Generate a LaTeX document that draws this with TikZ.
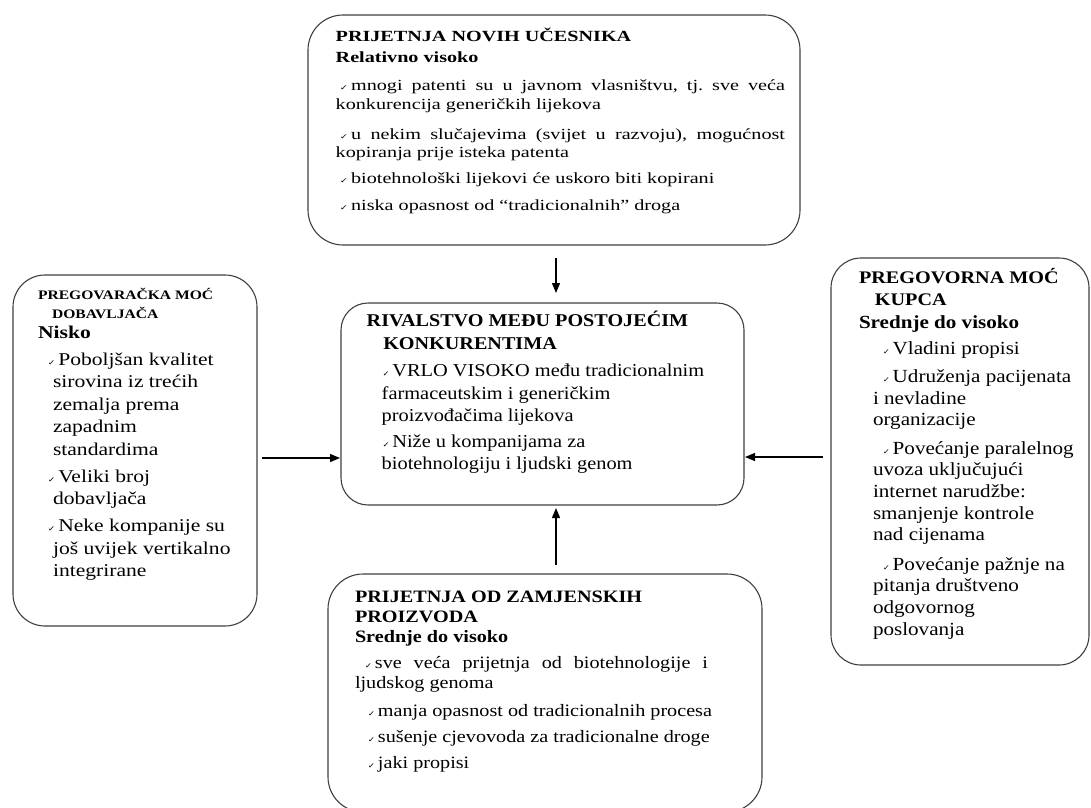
\documentclass[tikz,border=0pt]{standalone}
\usepackage{fontspec}
\setmainfont{Liberation Serif}
\newfontfamily\symf{DejaVu Sans}
\usepackage{graphicx}
\usetikzlibrary{arrows.meta}
\frenchspacing
\newcommand\ck{\raisebox{0pt}{\symf\bfseries\fontsize{7.5}{7.5}\selectfont ✓}\hspace{2.3pt}}
\tikzset{
  box/.style={draw=black!75, line width=1.1pt, inner sep=0pt, outer sep=0pt},
  txt/.style={inner sep=0pt, outer sep=0pt, anchor=base west, text=black},
  arr/.style={line width=1.3pt, -{Triangle[length=10pt,width=8pt]}}
}
\begin{document}
\begin{tikzpicture}[x=1pt,y=-1pt]
\useasboundingbox (0,0) rectangle (1091,807);
\clip (0,0) rectangle (1091,807);
\fill[white] (0,0) rectangle (1091,807);
% boxes
\node[box, minimum width=492pt, minimum height=230pt, rounded corners=35pt] (top) at (554,130) {};
\node[box, minimum width=244pt, minimum height=351pt, rounded corners=32pt] (lft) at (135,450.5) {};
\node[box, minimum width=403pt, minimum height=202pt, rounded corners=27pt] (ctr) at (542.5,404) {};
\node[box, minimum width=258pt, minimum height=407pt, rounded corners=30pt] (rgt) at (960,461.5) {};
\node[box, minimum width=434pt, minimum height=238pt, rounded corners=35pt] (bot) at (545,693) {};
% arrows
\coordinate (ax) at (556,0);
\coordinate (ayl) at (0,458);
\coordinate (ayr) at (0,457);
\draw[arr, shorten <=13pt, shorten >=10pt] (top.south -| ax) -- (ctr.north -| ax);
\draw[arr, shorten <=9pt, shorten >=3pt] (bot.north -| ax) -- (ctr.south -| ax);
\draw[arr, shorten <=5pt, shorten >=1pt] (lft.east |- ayl) -- (ctr.west |- ayl);
\draw[arr, shorten <=8pt, shorten >=1pt] (rgt.west |- ayr) -- (ctr.east |- ayr);
% top text
\node[txt] (topt) at (335.7,41.7) {\scalebox{1.3}[1]{\parbox[t]{400pt}{\raggedright\fontsize{15.5}{18.5}\selectfont
\textbf{PRIJETNJA NOVIH UČESNIKA}\\[2.1pt]
\textbf{Relativno visoko}\\[9.9pt]
\makebox[345.6pt][s]{\hspace*{3.3pt}\ck mnogi patenti su u javnom vlasništvu, tj. sve veća}\\
konkurencija generičkih lijekova\\[11.5pt]
\makebox[345.6pt][s]{\hspace*{3.3pt}\ck u nekim slučajevima (svijet u razvoju), mogućnost}\\
kopiranja prije isteka patenta\\[7.1pt]
\hspace*{3.3pt}\ck biotehnološki lijekovi će uskoro biti kopirani\\[8.2pt]
\hspace*{3.3pt}\ck niska opasnost od “tradicionalnih” droga}}};
% left text
\node[txt] (lftt) at (38,299.7) {\scalebox{1.2}[1]{\parbox[t]{200pt}{\raggedright\fontsize{18}{22.5}\selectfont
{\bfseries\fontsize{13}{18}\selectfont PREGOVARAČKA MOĆ}\\[-4.2pt]
\hspace*{11.7pt}{\bfseries\fontsize{13}{18}\selectfont DOBAVLJAČA}\\[-2.5pt]
\textbf{Nisko}\\[4.5pt]
\hspace*{8.3pt}\ck Poboljšan kvalitet\\
\hspace*{12.5pt}sirovina iz trećih\\
\hspace*{12.5pt}zemalja prema\\
\hspace*{12.5pt}zapadnim\\
\hspace*{12.5pt}standardima\\[4.5pt]
\hspace*{8.3pt}\ck Veliki broj\\
\hspace*{12.5pt}dobavljača\\[4.5pt]
\hspace*{8.3pt}\ck Neke kompanije su\\
\hspace*{12.5pt}još uvijek vertikalno\\
\hspace*{12.5pt}integrirane}}};
% center text
\node[txt] (ctrt) at (366.7,326.7) {\scalebox{1.12}[1]{\parbox[t]{350pt}{\raggedright\fontsize{18.2}{22.5}\selectfont
{\bfseries\fontsize{18}{22}\selectfont RIVALSTVO MEĐU POSTOJEĆIM}\\
\hspace*{14.8pt}{\bfseries\fontsize{18}{22}\selectfont KONKURENTIMA}\\[5pt]
\hspace*{14.3pt}\ck VRLO VISOKO među tradicionalnim\\
\hspace*{13.4pt}farmaceutskim i generičkim\\
\hspace*{13.4pt}proizvođačima lijekova\\[3.2pt]
\hspace*{14.3pt}\ck Niže u kompanijama za\\
\hspace*{13.4pt}biotehnologiju i ljudski genom}}};
% right text
\node[txt] (rgtt) at (859,283.7) {\scalebox{1.14}[1]{\parbox[t]{200pt}{\raggedright\fontsize{18.5}{21.7}\selectfont
{\bfseries\fontsize{17.7}{21}\selectfont PREGOVORNA MOĆ}\\
\hspace*{14pt}{\bfseries\fontsize{17.7}{21}\selectfont KUPCA}\\[1pt]
\textbf{Srednje do visoko}\\[4.3pt]
\hspace*{21pt}\ck Vladini propisi\\[6.6pt]
\hspace*{21pt}\ck Udruženja pacijenata\\
\hspace*{12.3pt}i nevladine\\
\hspace*{12.3pt}organizacije\\[6.6pt]
\hspace*{21pt}\ck Povećanje paralelnog\\
\hspace*{12.3pt}uvoza uključujući\\
\hspace*{12.3pt}internet narudžbe:\\
\hspace*{12.3pt}smanjenje kontrole\\
\hspace*{12.3pt}nad cijenama\\[7.5pt]
\hspace*{21pt}\ck Povećanje pažnje na\\
\hspace*{12.3pt}pitanja društveno\\
\hspace*{12.3pt}odgovornog\\
\hspace*{12.3pt}poslovanja}}};
% bottom text
\node[txt] (bott) at (355,602) {\scalebox{1.16}[1]{\parbox[t]{350pt}{\raggedright\fontsize{17.4}{20.7}\selectfont
\textbf{PRIJETNJA OD ZAMJENSKIH}\\
\textbf{PROIZVODA}\\[-1.1pt]
\textbf{Srednje do visoko}\\[5pt]
\makebox[304.3pt][s]{\hspace*{8.6pt}\ck sve veća prijetnja od biotehnologije i}\\
ljudskog genoma\\[6.9pt]
\hspace*{11.2pt}\ck manja opasnost od tradicionalnih procesa\\[5pt]
\hspace*{11.2pt}\ck sušenje cjevovoda za tradicionalne droge\\[5.3pt]
\hspace*{11.2pt}\ck jaki propisi}}};
\end{tikzpicture}
\end{document}
